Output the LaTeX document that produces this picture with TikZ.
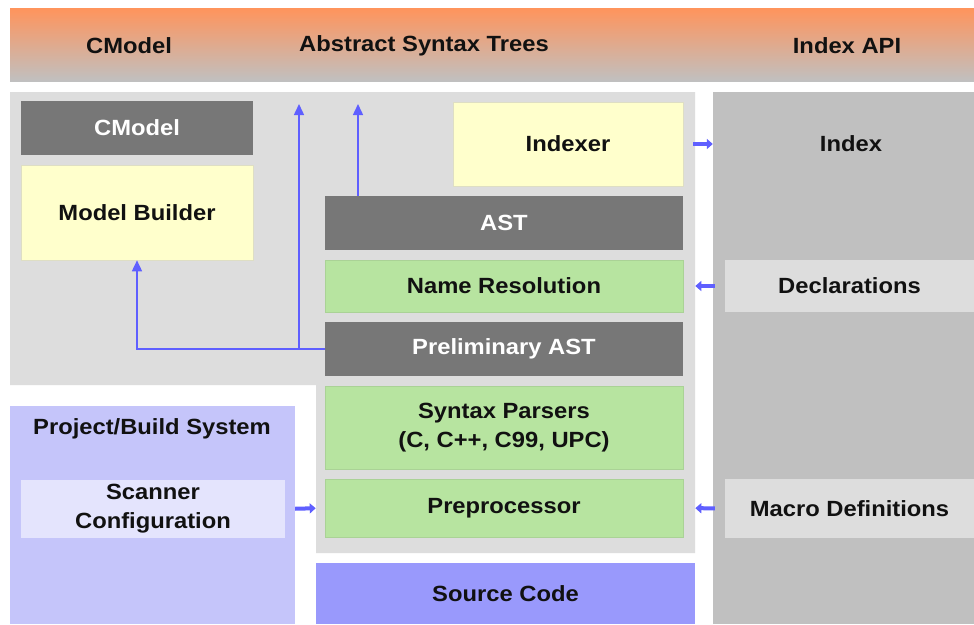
\documentclass[tikz,border=0pt]{standalone}
\usepackage{fontspec}
\setmainfont{Liberation Sans}[FakeStretch=1.08]
\usetikzlibrary{arrows.meta}
\definecolor{headtop}{RGB}{255,148,92}
\definecolor{headbot}{RGB}{192,192,192}
\definecolor{panelgray}{RGB}{221,221,221}
\definecolor{apigray}{RGB}{192,192,192}
\definecolor{boxgray}{RGB}{119,119,119}
\definecolor{noteyellow}{RGB}{255,255,204}
\definecolor{passgreen}{RGB}{183,228,160}
\definecolor{buildlav}{RGB}{197,197,250}
\definecolor{scanlav}{RGB}{228,228,253}
\definecolor{srcblue}{RGB}{153,153,252}
\definecolor{linkblue}{RGB}{95,95,255}
\definecolor{inkblack}{RGB}{17,17,17}
\begin{document}
\begin{tikzpicture}[x=1pt,y=1pt]
\tikzstyle{every node}+=[inner sep=0pt, align=center, text=inkblack, font=\fontsize{22}{29}\selectfont\bfseries]
\tikzstyle{darkbox}=[fill=boxgray, text=white, minimum height=54pt]
\tikzstyle{notebox}=[fill=noteyellow, draw={rgb,255:red,222;green,222;blue,196}, line width=0.6pt]
\tikzstyle{passbox}=[fill=passgreen, draw={rgb,255:red,170;green,210;blue,150}, line width=0.6pt, minimum width=358pt]
\tikzstyle{feedbox}=[fill=panelgray, minimum width=249pt]
\tikzstyle{thinlink}=[draw=linkblue, line width=1.5pt, -{Triangle[length=11pt,width=10pt]}]
\tikzstyle{fatlink}=[draw=linkblue, line width=4pt, -{Triangle[length=6pt,width=10pt]}]

\useasboundingbox [fill=white] (0,0) rectangle (974,-624);

\shade [top color=headtop, bottom color=headbot] (10,-8) rectangle (974,-81);
\node (hcmodel) at (129,-46) {CModel};
\node (hast) at (424,-46) {Abstract Syntax Trees};
\node (hindex) at (847,-46) {Index API};

\fill [panelgray] (10,-92) -- (695,-92) -- (695,-553) -- (316,-553) -- (316,-385) -- (10,-385) -- cycle;
\node [fill=apigray, minimum width=261pt, minimum height=532pt] (api) at (843.5,-358) {};
\node [fill=buildlav, minimum width=285pt, minimum height=218pt] (build) at (152.5,-515) {};

\node [darkbox, minimum width=232pt] (cmodel) at (137,-128) {CModel};
\node [notebox, minimum width=232pt, minimum height=95pt] (builder) at (137,-212.5) {Model Builder};
\node [notebox, minimum width=230pt, minimum height=84pt] (indexer) at (568,-144) {Indexer};
\node [darkbox, minimum width=358pt] (ast) at (504,-223) {AST};
\node [passbox, minimum height=52pt] (nameres) at (504,-286) {Name Resolution};
\node [darkbox, minimum width=358pt, minimum height=54pt] (prelim) at (504,-349) {Preliminary AST};
\node [passbox, minimum height=83pt] (parsers) at (504,-427.5) {Syntax Parsers\\(C, C++, C99, UPC)};
\node [passbox, minimum height=58pt] (preproc) at (504,-508) {Preprocessor};
\node [fill=srcblue, minimum width=379pt, minimum height=61pt] (source) at (505.5,-593.5) {Source Code};

\node (index) at (851,-144) {Index};
\node [feedbox, minimum height=52pt] (decl) at (849.5,-286) {Declarations};
\node [feedbox, minimum height=59pt] (macro) at (849.5,-508.5) {Macro Definitions};

\node (buildtitle) at (152,-429) {Project/Build System};
\node [fill=scanlav, minimum width=264pt, minimum height=58pt] (scanner) at (153,-509) {Scanner\\Configuration};

\coordinate (upleft) at (299,-104);
\coordinate (upright) at (358,-104);
\draw [thinlink] (prelim.west) -| (builder.south);
\draw [thinlink] (prelim.west -| upleft) -- (upleft);
\draw [thinlink] (ast.north -| upright) -- (upright);

\draw [fatlink, shorten <=10pt] (indexer.east) -- (indexer.east -| api.west);
\draw [fatlink, shorten <=10pt, shorten >=12pt] (decl.west) -- (nameres.east);
\draw [fatlink, shorten <=10pt, shorten >=12pt] (macro.west) -- (preproc.east);
\draw [fatlink, shorten <=10pt, shorten >=9pt] (scanner.east) -- (preproc.west);
\end{tikzpicture}
\end{document}
